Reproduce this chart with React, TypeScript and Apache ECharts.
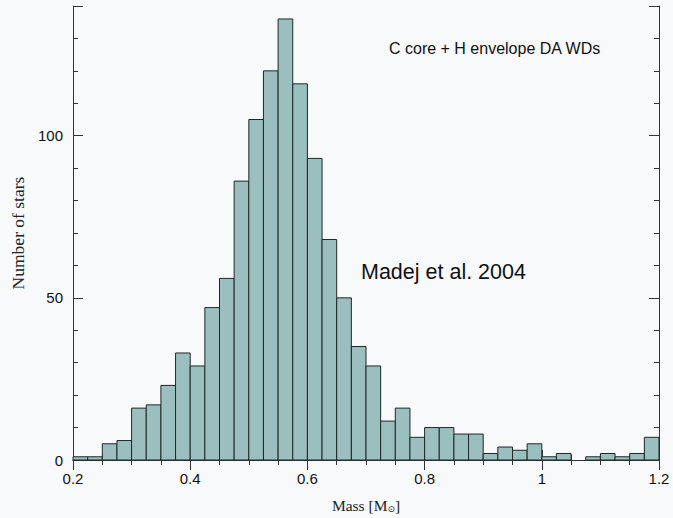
import React, { useEffect, useRef } from "react";
import * as echarts from "echarts";

const binStart = 0.2;
const binWidth = 0.025;
const counts = [
  1, 1, 5, 6, 16, 17, 23, 33, 29, 47,
  56, 86, 105, 120, 136, 116, 93, 68, 50, 35,
  29, 12, 16, 7, 10, 10, 8, 8, 2, 4,
  3, 5, 1, 2, 0, 1, 2, 1, 2, 7,
];
const xTicks = [0.2, 0.4, 0.6, 0.8, 1.0, 1.2];
const yTicks = [0, 50, 100];

export default function App() {
  const ref = useRef<HTMLDivElement>(null);
  useEffect(() => {
    const chart = echarts.init(ref.current!, null, { renderer: "svg" });
    const data = counts.map((c, i) => [
      +(binStart + i * binWidth).toFixed(4),
      +(binStart + (i + 1) * binWidth).toFixed(4),
      c,
    ]);
    const axisCol = "#333";
    const xCommon = {
      type: "value",
      min: xTicks[0],
      max: xTicks[xTicks.length - 1],
      interval: 0.2,
      splitLine: { show: false },
      axisLine: { show: true, lineStyle: { color: axisCol, width: 1 } },
      axisTick: { show: true, inside: true, length: 10, lineStyle: { color: axisCol } },
      minorTick: { show: true, splitNumber: 4, length: 5, lineStyle: { color: axisCol } },
    };
    const yCommon = {
      type: "value",
      min: yTicks[0],
      max: 140,
      interval: 50,
      splitLine: { show: false },
      axisLine: { show: true, lineStyle: { color: axisCol, width: 1 } },
      axisTick: { show: true, inside: true, length: 10, lineStyle: { color: axisCol } },
      minorTick: { show: true, splitNumber: 5, length: 5, lineStyle: { color: axisCol } },
    };
    chart.setOption({
      animation: false,
      backgroundColor: "#f7f9fb",
      grid: { left: 73, right: 14, top: 6, bottom: 55 },
      xAxis: [
        {
          ...xCommon,
          position: "bottom",
          axisLabel: {
            show: true,
            color: "#111",
            fontFamily: "Liberation Sans, Arial, sans-serif",
            fontSize: 15,
            margin: 11,
            formatter: (v: number) => String(+v.toFixed(2)),
          },
          name: "Mass [M{sub|⊙}]",
          nameLocation: "middle",
          nameGap: 37,
          nameTextStyle: {
            color: "#222",
            fontFamily: "Liberation Serif, Times New Roman, serif",
            fontSize: 15.5,
            rich: {
              sub: {
                fontFamily: "DejaVu Sans, sans-serif",
                fontSize: 9,
                verticalAlign: "bottom",
                padding: [7, 0, 0, 0],
              },
            },
          },
        },
        { ...xCommon, position: "top", axisLabel: { show: false } },
      ],
      yAxis: [
        {
          ...yCommon,
          position: "left",
          axisLabel: {
            show: true,
            showMaxLabel: false,
            color: "#111",
            fontFamily: "Liberation Sans, Arial, sans-serif",
            fontSize: 15,
            margin: 10,
          },
          name: "Number of stars",
          nameLocation: "middle",
          nameGap: 41,
          nameTextStyle: {
            color: "#222",
            fontFamily: "Liberation Serif, Times New Roman, serif",
            fontSize: 17.5,
          },
        },
        { ...yCommon, position: "right", axisLabel: { show: false } },
      ],
      series: [
        {
          type: "custom",
          xAxisIndex: 0,
          yAxisIndex: 0,
          data,
          encode: { x: [0, 1], y: 2 },
          renderItem: (params: any, api: any) => {
            const x0 = api.value(0);
            const x1 = api.value(1);
            const v = api.value(2);
            if (!v) return null;
            const p0 = api.coord([x0, v]);
            const p1 = api.coord([x1, 0]);
            return {
              type: "rect",
              shape: { x: p0[0], y: p0[1], width: p1[0] - p0[0], height: p1[1] - p0[1] },
              style: { fill: "#9bbfbf", stroke: "#1e2828", lineWidth: 1 },
            };
          },
        },
      ],
      graphic: [
        {
          type: "text",
          left: 389,
          top: 40,
          style: {
            text: "C core + H envelope DA WDs",
            fill: "#111",
            font: "16px 'Liberation Sans', Arial, sans-serif",
          },
        },
        {
          type: "text",
          left: 361,
          top: 261,
          style: {
            text: "Madej et al. 2004",
            fill: "#111",
            font: "21.5px 'Liberation Sans', Arial, sans-serif",
          },
        },
      ],
    });
    return () => chart.dispose();
  }, []);
  return (
    <div
      ref={ref}
      style={{ position: "fixed", left: 0, top: 0, width: 673, height: 518 }}
    />
  );
}
